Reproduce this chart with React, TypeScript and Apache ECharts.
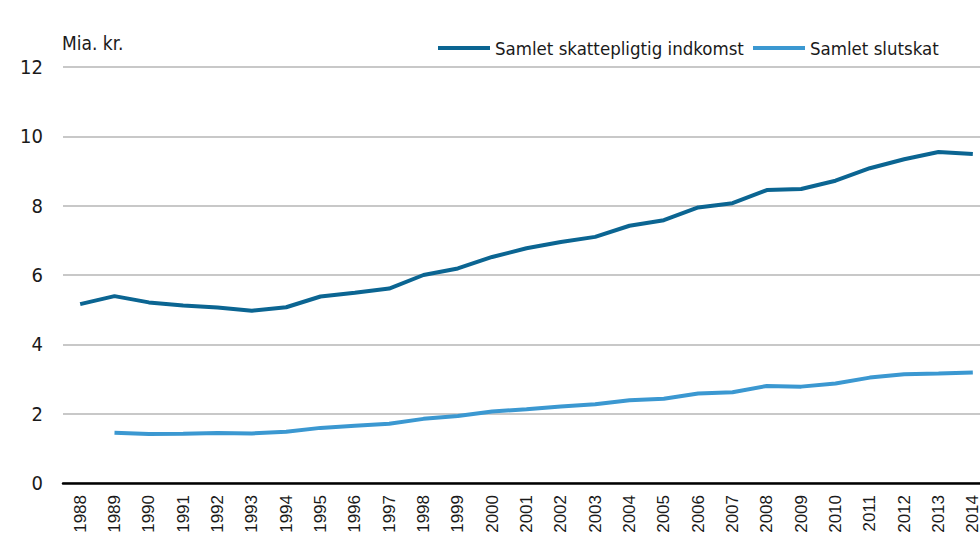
import React, { useEffect, useRef } from "react";
import * as echarts from "echarts";

const years = [
  "1988", "1989", "1990", "1991", "1992", "1993", "1994", "1995", "1996",
  "1997", "1998", "1999", "2000", "2001", "2002", "2003", "2004", "2005",
  "2006", "2007", "2008", "2009", "2010", "2011", "2012", "2013", "2014",
];

const indkomst = [
  5.16, 5.39, 5.21, 5.12, 5.06, 4.97, 5.07, 5.38, 5.49, 5.61, 6.0, 6.19,
  6.52, 6.77, 6.95, 7.1, 7.42, 7.58, 7.95, 8.07, 8.45, 8.48, 8.72, 9.08,
  9.34, 9.55, 9.49,
];

const slutskat = [
  null, 1.45, 1.41, 1.42, 1.44, 1.43, 1.48, 1.59, 1.65, 1.71, 1.85, 1.93,
  2.06, 2.13, 2.21, 2.27, 2.39, 2.43, 2.58, 2.62, 2.8, 2.78, 2.87, 3.04,
  3.14, 3.16, 3.19,
];

const yTicks = { min: 0, max: 12, interval: 2 };

const seriesNames = ["Samlet skattepligtig indkomst", "Samlet slutskat"];
const colors = ["#0b6592", "#3b98d1"];

const narrow = "'DejaVu Sans Condensed', 'Liberation Sans Narrow', sans-serif";

export default function App() {
  const ref = useRef<HTMLDivElement>(null);

  useEffect(() => {
    document.body.style.margin = "0";
    if (!ref.current) return;
    const chart = echarts.init(ref.current, undefined, { renderer: "svg" });
    const legendText = { fontFamily: narrow, fontSize: 18.5, color: "#1a1a1a", lineHeight: 26 };
    chart.setOption({
      animation: false,
      backgroundColor: "#ffffff",
      grid: {
        left: 63,
        top: 67,
        width: 927,
        height: 416,
        containLabel: false,
        outerBoundsMode: "none",
      },
      legend: [
        {
          data: [seriesNames[0]],
          left: 433,
          top: 30,
          icon: "rect",
          itemWidth: 52,
          itemHeight: 4,
          textStyle: legendText,
        },
        {
          data: [seriesNames[1]],
          left: 748,
          top: 30,
          icon: "rect",
          itemWidth: 52,
          itemHeight: 4,
          textStyle: legendText,
        },
      ],
      graphic: [
        {
          type: "text",
          left: 62,
          top: 33,
          style: { text: "Mia. kr.", fontFamily: narrow, fontSize: 19, fill: "#1a1a1a" },
        },
      ],
      xAxis: {
        type: "category",
        data: years,
        boundaryGap: true,
        axisLine: { show: true, lineStyle: { color: "#000000", width: 2.5 } },
        axisTick: { show: false },
        axisLabel: {
          rotate: 90,
          interval: 0,
          margin: 12,
          fontFamily: "'Liberation Sans', Arial, sans-serif",
          fontSize: 17,
          color: "#1a1a1a",
        },
        splitLine: { show: false },
      },
      yAxis: {
        type: "value",
        min: yTicks.min,
        max: yTicks.max,
        interval: yTicks.interval,
        axisLine: { show: false },
        axisTick: { show: false },
        axisLabel: {
          margin: 20,
          fontFamily: narrow,
          fontSize: 20,
          color: "#1a1a1a",
        },
        splitLine: { show: true, lineStyle: { color: "#c8c8c8", width: 2 } },
      },
      series: [
        {
          name: seriesNames[0],
          type: "line",
          data: indkomst,
          showSymbol: false,
          symbol: "none",
          lineStyle: { color: colors[0], width: 4 },
          itemStyle: { color: colors[0] },
          z: 3,
        },
        {
          name: seriesNames[1],
          type: "line",
          data: slutskat,
          showSymbol: false,
          symbol: "none",
          connectNulls: false,
          lineStyle: { color: colors[1], width: 4 },
          itemStyle: { color: colors[1] },
          z: 3,
        },
      ],
    });
    return () => chart.dispose();
  }, []);

  return <div ref={ref} style={{ width: 980, height: 536 }} />;
}
